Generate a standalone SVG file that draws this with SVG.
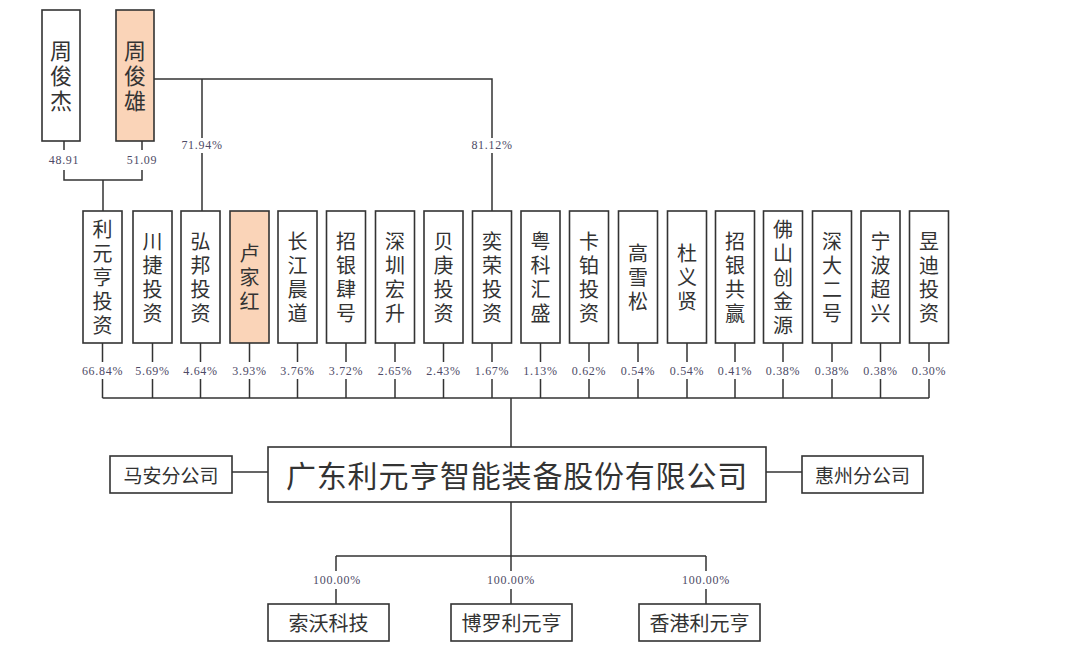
<svg xmlns="http://www.w3.org/2000/svg" width="1088" height="658" viewBox="0 0 1088 658">
<style>
.box{fill:#fff;stroke:#333;stroke-width:1.6}
.hl{fill:#fad4b8}
.ln{fill:none;stroke:#333;stroke-width:1.5}
.t{font-family:"Noto Sans CJK SC","Noto Sans CJK JP",sans-serif;fill:#333;text-anchor:middle;dominant-baseline:central}
.v{font-family:"Noto Sans CJK SC","Noto Sans CJK JP",sans-serif;fill:#333;text-anchor:middle;font-size:20px;letter-spacing:4px;writing-mode:vertical-rl}
.vt{font-family:"Noto Sans CJK SC","Noto Sans CJK JP",sans-serif;fill:#333;text-anchor:middle;font-size:22px;letter-spacing:3px;writing-mode:vertical-rl}
.p{font-family:"Liberation Serif",serif;font-size:12px;fill:#4d4a66;text-anchor:middle;dominant-baseline:central;letter-spacing:0.7px}
</style>
<rect width="1088" height="658" fill="#fff"/>
<g id="connectors">
<path class="ln" d="M64,141V150M64,170V180H142V170M142,150V141M103,180V211"/>
<path class="ln" d="M154,79H492V138M492,153V211M202,79V138M202,153V211"/>
<path class="ln" d="M102.5,343V362M102.5,379V398M152.5,343V362M152.5,379V398M200.5,343V362M200.5,379V398M249.5,343V362M249.5,379V398M297.5,343V362M297.5,379V398M346,343V362M346,379V398M395,343V362M395,379V398M443.5,343V362M443.5,379V398M492,343V362M492,379V398M540.5,343V362M540.5,379V398M589,343V362M589,379V398M638,343V362M638,379V398M687,343V362M687,379V398M735,343V362M735,379V398M783,343V362M783,379V398M832,343V362M832,379V398M880.5,343V362M880.5,379V398M929,343V362M929,379V398"/>
<path class="ln" d="M102.5,398H929M511,398V447"/>
<path class="ln" d="M232,472H268M766,472H802"/>
<path class="ln" d="M511,502V556M336,556H706M336,556V571M336,589V604M511,556V571M511,589V604M706,556V571M706,589V604"/>
</g>
<g id="labels">
<text class="p" x="64" y="160">48.91</text>
<text class="p" x="142" y="160">51.09</text>
<text class="p" x="202" y="145">71.94%</text>
<text class="p" x="492" y="145">81.12%</text>
<text class="p" x="102.5" y="371">66.84%</text>
<text class="p" x="152.5" y="371">5.69%</text>
<text class="p" x="200.5" y="371">4.64%</text>
<text class="p" x="249.5" y="371">3.93%</text>
<text class="p" x="297.5" y="371">3.76%</text>
<text class="p" x="346" y="371">3.72%</text>
<text class="p" x="395" y="371">2.65%</text>
<text class="p" x="443.5" y="371">2.43%</text>
<text class="p" x="492" y="371">1.67%</text>
<text class="p" x="540.5" y="371">1.13%</text>
<text class="p" x="589" y="371">0.62%</text>
<text class="p" x="638" y="371">0.54%</text>
<text class="p" x="687" y="371">0.54%</text>
<text class="p" x="735" y="371">0.41%</text>
<text class="p" x="783" y="371">0.38%</text>
<text class="p" x="832" y="371">0.38%</text>
<text class="p" x="880.5" y="371">0.38%</text>
<text class="p" x="929" y="371">0.30%</text>
<text class="p" x="337" y="580">100.00%</text>
<text class="p" x="511" y="580">100.00%</text>
<text class="p" x="706" y="580">100.00%</text>
</g>
<g id="n-zhoujunjie"><rect class="box" x="42" y="10" width="38" height="131"/><text class="vt" x="61" y="77">周俊杰</text></g>
<g id="n-zhoujunxiong"><rect class="box hl" x="116" y="10" width="38" height="131"/><text class="vt" x="135" y="77">周俊雄</text></g>
<g id="n1"><rect class="box" x="83" y="211" width="39" height="132"/><text class="v" x="102.5" y="279">利元亨投资</text></g>
<g id="n2"><rect class="box" x="133" y="211" width="39" height="132"/><text class="v" x="152.5" y="279">川捷投资</text></g>
<g id="n3"><rect class="box" x="181" y="211" width="39" height="132"/><text class="v" x="200.5" y="279">弘邦投资</text></g>
<g id="n4"><rect class="box hl" x="230" y="211" width="39" height="132"/><text class="v" x="249.5" y="279">卢家红</text></g>
<g id="n5"><rect class="box" x="278" y="211" width="39" height="132"/><text class="v" x="297.5" y="279">长江晨道</text></g>
<g id="n6"><rect class="box" x="326.5" y="211" width="39" height="132"/><text class="v" x="346" y="279">招银肆号</text></g>
<g id="n7"><rect class="box" x="375.5" y="211" width="39" height="132"/><text class="v" x="395" y="279">深圳宏升</text></g>
<g id="n8"><rect class="box" x="424" y="211" width="39" height="132"/><text class="v" x="443.5" y="279">贝庚投资</text></g>
<g id="n9"><rect class="box" x="472.5" y="211" width="39" height="132"/><text class="v" x="492" y="279">奕荣投资</text></g>
<g id="n10"><rect class="box" x="521" y="211" width="39" height="132"/><text class="v" x="540.5" y="279">粤科汇盛</text></g>
<g id="n11"><rect class="box" x="569.5" y="211" width="39" height="132"/><text class="v" x="589" y="279">卡铂投资</text></g>
<g id="n12"><rect class="box" x="618.5" y="211" width="39" height="132"/><text class="v" x="638" y="279">高雪松</text></g>
<g id="n13"><rect class="box" x="667.5" y="211" width="39" height="132"/><text class="v" x="687" y="279">杜义贤</text></g>
<g id="n14"><rect class="box" x="715.5" y="211" width="39" height="132"/><text class="v" x="735" y="279">招银共赢</text></g>
<g id="n15"><rect class="box" x="763.5" y="211" width="39" height="132"/><text class="v" x="783" y="279">佛山创金源</text></g>
<g id="n16"><rect class="box" x="812.5" y="211" width="39" height="132"/><text class="v" x="832" y="279">深大二号</text></g>
<g id="n17"><rect class="box" x="861" y="211" width="39" height="132"/><text class="v" x="880.5" y="279">宁波超兴</text></g>
<g id="n18"><rect class="box" x="909.5" y="211" width="39" height="132"/><text class="v" x="929" y="279">昱迪投资</text></g>
<g id="n-main"><rect class="box" x="268" y="447" width="498" height="55"/><text class="t" x="517" y="474" font-size="30" letter-spacing="0.8">广东利元亨智能装备股份有限公司</text></g>
<g id="n-maan"><rect class="box" x="110" y="456" width="122" height="37"/><text class="t" x="171" y="474" font-size="19">马安分公司</text></g>
<g id="n-huizhou"><rect class="box" x="802" y="456" width="121" height="37"/><text class="t" x="862.5" y="474" font-size="19">惠州分公司</text></g>
<g id="n-suowo"><rect class="box" x="268" y="604" width="121" height="37"/><text class="t" x="328.5" y="622" font-size="20">索沃科技</text></g>
<g id="n-boluo"><rect class="box" x="451" y="604" width="121" height="37"/><text class="t" x="511.5" y="622" font-size="20">博罗利元亨</text></g>
<g id="n-hk"><rect class="box" x="639" y="604" width="121" height="37"/><text class="t" x="699.5" y="622" font-size="20">香港利元亨</text></g>
</svg>
